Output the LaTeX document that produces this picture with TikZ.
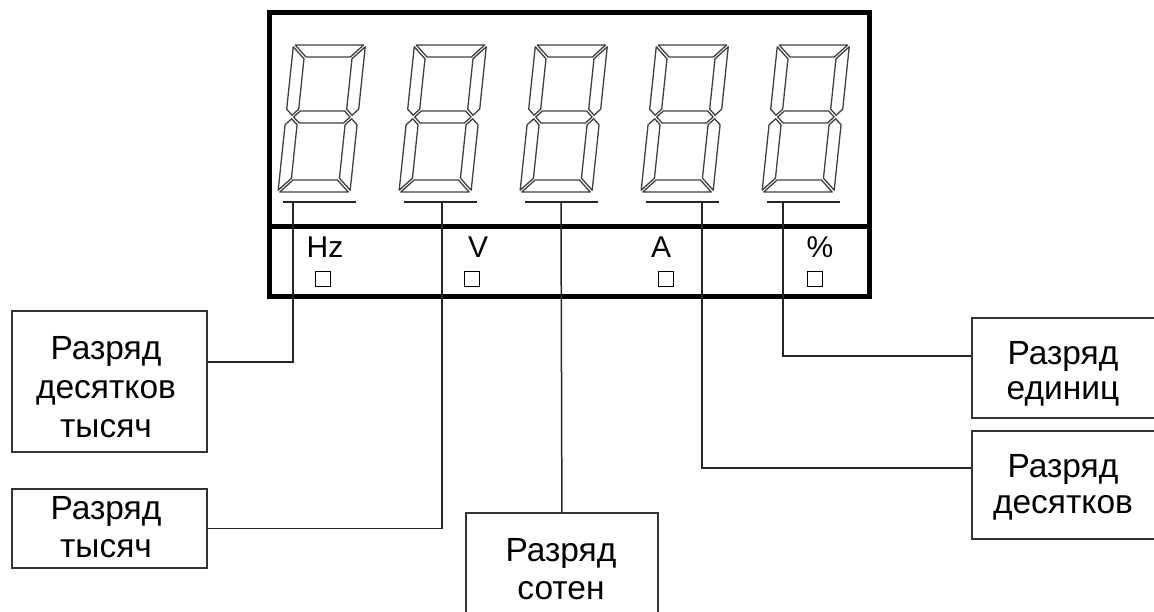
\documentclass[tikz,border=0pt]{standalone}
\usepackage{fontspec}
\setmainfont{Liberation Sans}
\newcommand{\sgW}{72}
\newcommand{\sgH}{147}
\newcommand{\sgT}{12}
\newcommand{\sgM}{75}
\newcommand{\sgG}{1.8}
\tikzset{
  seg/.style={draw=black!75, line width=1.3pt, line join=round},
  sevenseg/.pic={
    \begin{scope}[x={(1pt,0pt)},y={(0.105pt,1pt)},seg]
      % a
      \draw (\sgG,\sgH) -- ({\sgW-\sgG},\sgH) -- ({\sgW-\sgT-\sgG},{\sgH-\sgT}) -- ({\sgT+\sgG},{\sgH-\sgT}) -- cycle;
      % d
      \draw (\sgG,0) -- ({\sgW-\sgG},0) -- ({\sgW-\sgT-\sgG},\sgT) -- ({\sgT+\sgG},\sgT) -- cycle;
      % g
      \draw ({\sgT/2+\sgG},\sgM) -- ({\sgT+\sgG},{\sgM+\sgT/2}) -- ({\sgW-\sgT-\sgG},{\sgM+\sgT/2}) -- ({\sgW-\sgT/2-\sgG},\sgM) -- ({\sgW-\sgT-\sgG},{\sgM-\sgT/2}) -- ({\sgT+\sgG},{\sgM-\sgT/2}) -- cycle;
      % f
      \draw (0,{\sgH-\sgG}) -- (\sgT,{\sgH-\sgT-\sgG}) -- (\sgT,{\sgM+\sgT/2+\sgG}) -- ({\sgT/2},{\sgM+\sgG}) -- (0,{\sgM+\sgT/2+\sgG}) -- cycle;
      % e
      \draw (0,{\sgM-\sgT/2-\sgG}) -- ({\sgT/2},{\sgM-\sgG}) -- (\sgT,{\sgM-\sgT/2-\sgG}) -- (\sgT,{\sgT+\sgG}) -- (0,\sgG) -- cycle;
      % b
      \draw (\sgW,{\sgH-\sgG}) -- ({\sgW-\sgT},{\sgH-\sgT-\sgG}) -- ({\sgW-\sgT},{\sgM+\sgT/2+\sgG}) -- ({\sgW-\sgT/2},{\sgM+\sgG}) -- (\sgW,{\sgM+\sgT/2+\sgG}) -- cycle;
      % c
      \draw (\sgW,{\sgM-\sgT/2-\sgG}) -- ({\sgW-\sgT/2},{\sgM-\sgG}) -- ({\sgW-\sgT},{\sgM-\sgT/2-\sgG}) -- ({\sgW-\sgT},{\sgT+\sgG}) -- (\sgW,\sgG) -- cycle;
    \end{scope}
  },
  frameline/.style={line width=5pt, line cap=rect},
  uline/.style={line width=1.5pt, black!85},
  conn/.style={line width=1.5pt, black!85},
  box/.style={draw=black!80, line width=1.8pt, inner sep=0pt},
  boxtxt/.style={align=center, inner sep=0pt, font=\fontsize{33.5}{#1}\selectfont},
  unitlbl/.style={inner sep=0pt, anchor=base, font=\fontsize{30}{34}\selectfont},
  sq/.style={draw=black, line width=1.5pt, minimum width=15pt, minimum height=15pt, inner sep=0pt}
}
\begin{document}
\begin{tikzpicture}[x=1pt, y=-1pt]
\useasboundingbox (0,0) rectangle (1154,612);
\clip (0,0) rectangle (1154,612);
\fill[white] (0,0) rectangle (1154,612);

% digits
\foreach \k in {0,...,4} {
  \pic at ({278+121*\k},192) {sevenseg};
  \draw[uline] ({283+121*\k},202) -- ({356+121*\k},202);
}

% frame
\draw[frameline] (269.5,12.5) rectangle (869.5,296.5);
\draw[frameline] (269.5,227) -- (869.5,227);

% unit labels and indicator squares
\node[unitlbl] (lHz) at (325,258) {Hz};
\node[unitlbl] (lV)  at (478,258) {V};
\node[unitlbl] (lA)  at (661,258) {A};
\node[unitlbl] (lP)  at (820,258) {\%};
\node[sq] (s1) at (323,279) {};
\node[sq] (s2) at (472,279) {};
\node[sq] (s3) at (666,279) {};
\node[sq] (s4) at (815,279) {};

% connector tops
\coordinate (c1) at (293,202);
\coordinate (c2) at (442,202);
\coordinate (c3) at (561,202);
\coordinate (c4) at (702,202);
\coordinate (c5) at (783,202);

% boxes
\node[box, anchor=north west, minimum width=195pt, minimum height=141pt] (b1) at (11,310) {};
\node[box, anchor=north west, minimum width=195pt, minimum height=79pt]  (b2) at (11,488) {};
\node[box, anchor=north west, minimum width=192pt, minimum height=115pt] (b3) at (465,512) {};
\node[box, anchor=north west, minimum width=186pt, minimum height=100pt] (b4) at (971,317) {};
\node[box, anchor=north west, minimum width=186pt, minimum height=108pt] (b5) at (971,430) {};

\node[boxtxt=39] (t1) at (106,387.5) {Разряд\\десятков\\тысяч};
\node[boxtxt=38] (t2) at (106,527.5) {Разряд\\тысяч};
\node[boxtxt=38] (t3) at (561,569.5) {Разряд\\сотен};
\node[boxtxt=35] (t4) at (1063,374) {Разряд\\единиц};
\node[boxtxt=36] (t5) at (1063,487) {Разряд\\десятков};

% connectors
\draw[conn] (c1) |- ([yshift=-52pt]b1.north east);
\draw[conn] (c2) |- (b2.east);
\draw[conn] (c3) -- (b3.north);
\draw[conn] (c4) |- ([yshift=-38pt]b5.north west);
\draw[conn] (c5) |- ([yshift=-39pt]b4.north west);
\end{tikzpicture}
\end{document}
